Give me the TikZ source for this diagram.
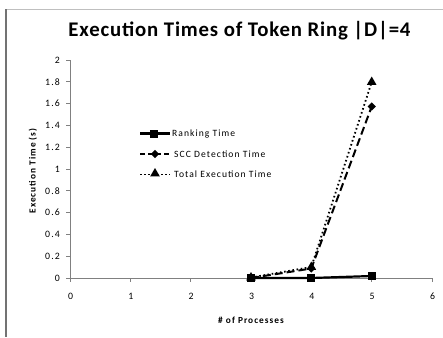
\documentclass[tikz,border=0pt]{standalone}
\usepackage{fontspec}
\setmainfont{Carlito}
\newfontfamily\titlefont[LetterSpace=4]{Carlito}
\newfontfamily\chartfont[LetterSpace=11]{Carlito}
\usetikzlibrary{shapes.geometric}
\begin{document}
\begin{tikzpicture}[x=1pt,y=-1pt,
  axisline/.style={draw=black!50, line width=0.7pt},
  frameline/.style={line width=1.2pt},
  ticklabel/.style={font=\chartfont\fontsize{9.8}{11}\selectfont, inner sep=1pt},
  axislabel/.style={font=\chartfont\fontsize{9.3}{10}\selectfont\bfseries, inner sep=0pt},
  legendtext/.style={font=\chartfont\fontsize{9.6}{11}\selectfont, anchor=west, inner sep=0pt},
  sqmark/.style={rectangle, fill=black, minimum size=8pt, inner sep=0pt},
  dmmark/.style={diamond, fill=black, minimum size=8.5pt, inner sep=0pt},
  trmark/.style={regular polygon, regular polygon sides=3, fill=black, minimum size=11pt, inner sep=0pt},
  rankline/.style={line width=2.2pt},
  sccline/.style={line width=2pt, dash pattern=on 8pt off 4pt},
  totalline/.style={line width=1.8pt, dash pattern=on 1.6pt off 2.6pt}]
\useasboundingbox (0,0) rectangle (443,337);

% chart frame
\draw[frameline, draw=black!25] (6,9.5) -- (443,9.5);
\draw[frameline, draw=black!55] (6,9.5) -- (6,337);

% title
\node[font=\titlefont\fontsize{20.8}{24}\selectfont\bfseries] (title) at (239.5,31) {Execution Times of Token Ring |D|=4};

% axes
\coordinate (o) at (70,278);
\coordinate (xend) at (432,278);
\coordinate (yend) at (70,60);
\draw[axisline] (o) -- (xend);
\draw[axisline] (o) -- (yend);

% y ticks and labels
\foreach \v/\t [count=\i from 0] in {0/0,0.2/0.2,0.4/0.4,0.6/0.6,0.8/0.8,1/1,1.2/1.2,1.4/1.4,1.6/1.6,1.8/1.8,2/2} {
  \draw[axisline] (66,278-109*\v) -- (70,278-109*\v);
  \node[ticklabel, anchor=east] (yl\i) at (61,278-109*\v) {\t};
}
% x ticks and labels
\foreach \v in {0,...,6} {
  \draw[axisline] (70+60.33*\v,278) -- (70+60.33*\v,282);
  \node[ticklabel] (xl\v) at (70.5+60.33*\v,296) {\v};
}

% axis titles
\node[axislabel, rotate=90] (ylab) at (33,171) {Execution Time (s)};
\node[axislabel] (xlab) at (251,320) {\# of Processes};

% data points
\coordinate (t3) at (251,277.5);
\coordinate (t4) at (311.3,267);
\coordinate (t5) at (371.7,82);
\coordinate (s3) at (251,278);
\coordinate (s4) at (311.3,268.5);
\coordinate (s5) at (371.7,106.5);
\coordinate (r3) at (251,278);
\coordinate (r4) at (311.3,278);
\coordinate (r5) at (371.7,276);

% series
\draw[totalline] (t3) -- (t4) -- (t5);
\draw[sccline] (s3) -- (s4) -- (s5);
\draw[rankline] (r3) -- (r4) -- (r5);
\foreach \p in {t3,t4,t5} \node[trmark] at (\p) {};
\foreach \p in {s3,s4,s5} \node[dmmark] at (\p) {};
\foreach \p in {r3,r4,r5} \node[sqmark] at (\p) {};

% legend
\coordinate (la) at (140,133.5);
\coordinate (lb) at (170,133.5);
\coordinate (lc) at (140,154);
\coordinate (ld) at (170,154);
\coordinate (le) at (140,174.5);
\coordinate (lf) at (170,174.5);
\draw[rankline] (la) -- (lb);
\node[sqmark] (lm1) at (154,133.5) {};
\node[legendtext] (lt1) at (172,133.5) {Ranking Time};
\draw[sccline, dash pattern=on 5pt off 3pt] (lc) -- (ld);
\node[dmmark] (lm2) at (155,154) {};
\node[legendtext] (lt2) at (174,154) {SCC Detection Time};
\draw[totalline] (le) -- (lf);
\node[trmark] (lm3) at (155,173.5) {};
\node[legendtext] (lt3) at (174,174.5) {Total Execution Time};
\end{tikzpicture}
\end{document}
